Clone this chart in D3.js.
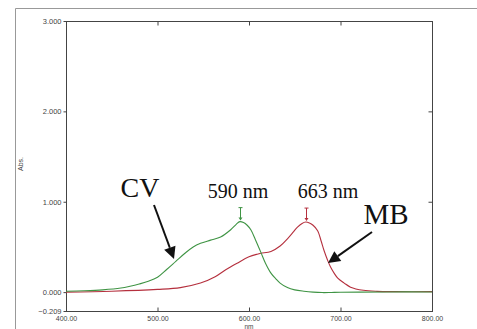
<!DOCTYPE html>
<html>
<head>
<meta charset="utf-8">
<script src="https://cdn.jsdelivr.net/npm/d3@7"></script>
<style>
  body { margin: 0; background: #fff; }
  svg { display: block; }
  .tick text { font-family: Arial, "Liberation Sans", sans-serif; fill: #444; }
</style>
</head>
<body>
<div id="chart"></div>
<script>
// wavelength (nm) / absorbance pairs
var cvWave = [400, 420, 440, 460, 470, 480, 490, 500, 510, 520, 530, 539, 547, 558, 569, 580, 586, 590, 594, 598, 602, 607, 613, 618, 624, 629, 634, 642, 650, 660, 670, 680, 690, 700, 720, 750, 800];
var cvAbs  = [0.01, 0.015, 0.025, 0.045, 0.065, 0.09, 0.12, 0.165, 0.25, 0.34, 0.43, 0.50, 0.54, 0.575, 0.61, 0.69, 0.75, 0.78, 0.77, 0.74, 0.69, 0.58, 0.44, 0.32, 0.21, 0.15, 0.10, 0.05, 0.025, 0.01, 0.0, -0.005, -0.004, -0.002, 0.0, 0.002, 0.002];

var mbWave = [400, 450, 500, 525, 547, 563, 575, 587, 600, 609, 613, 624, 634, 642, 648, 653, 658, 662, 666, 670, 675, 679, 682, 686, 689, 693, 697, 704, 711, 725, 740, 760, 800];
var mbAbs  = [0.0, 0.01, 0.03, 0.05, 0.10, 0.17, 0.25, 0.32, 0.39, 0.42, 0.43, 0.45, 0.51, 0.59, 0.66, 0.72, 0.76, 0.775, 0.765, 0.74, 0.68, 0.56, 0.46, 0.35, 0.28, 0.21, 0.155, 0.10, 0.055, 0.02, 0.008, 0.005, 0.005];

var xTicks = [400, 500, 600, 700, 800];
var yTicks = [-0.209, 0, 1, 2, 3];

var W = 477, H = 329;
var margin = {top: 21, right: 45, bottom: 18, left: 66};

var svg = d3.select("#chart").append("svg").attr("width", W).attr("height", H);

// outer frame (only top and left visible in the crop)
svg.append("path")
  .attr("d", "M15.5," + H + "V8.5H" + W)
  .attr("fill", "none").attr("stroke", "#999").attr("stroke-width", 1);

var x = d3.scaleLinear().domain([400, 800]).range([margin.left, W - margin.right]);
var y = d3.scaleLinear().domain([-0.209, 3]).range([H - margin.bottom, margin.top]);

// box
svg.append("rect")
  .attr("x", x(400) + 0.5).attr("y", y(3) + 0.5)
  .attr("width", x(800) - x(400)).attr("height", y(-0.209) - y(3))
  .attr("fill", "none").attr("stroke", "#444").attr("stroke-width", 1);

var xAxis = svg.append("g").attr("transform", "translate(0," + (y(-0.209) + 0.5) + ")")
  .call(d3.axisBottom(x).tickValues(xTicks).tickFormat(d3.format(".2f")).tickSizeInner(-4).tickSizeOuter(0).tickPadding(5));
xAxis.select(".domain").remove();
xAxis.selectAll("line").attr("stroke", "#444");
xAxis.selectAll("text").attr("font-size", "7px");

var xTop = svg.append("g").attr("transform", "translate(0," + (y(3) + 0.5) + ")")
  .call(d3.axisTop(x).tickValues([500, 600, 700]).tickFormat("").tickSizeInner(-4).tickSizeOuter(0));
xTop.select(".domain").remove();
xTop.selectAll("line").attr("stroke", "#444");

var yAxis = svg.append("g").attr("transform", "translate(" + (x(400) + 0.5) + ",0)")
  .call(d3.axisLeft(y).tickValues(yTicks).tickFormat(d3.format(".3f")).tickSize(3).tickPadding(2));
yAxis.select(".domain").remove();
yAxis.selectAll("line").attr("stroke", "#444");
yAxis.selectAll("text").attr("font-size", "7.5px");

var yRight = svg.append("g").attr("transform", "translate(" + (x(800) + 0.5) + ",0)")
  .call(d3.axisRight(y).tickValues([1, 2]).tickFormat("").tickSizeInner(-4).tickSizeOuter(0));
yRight.select(".domain").remove();
yRight.selectAll("line").attr("stroke", "#444");

// axis titles
svg.append("text").attr("transform", "translate(23," + 164 + ") rotate(-90)")
  .attr("text-anchor", "middle").attr("font-family", "Arial, sans-serif")
  .attr("font-size", "7px").attr("fill", "#444").text("Abs.");
svg.append("text").attr("x", x(600)).attr("y", 329)
  .attr("text-anchor", "middle").attr("font-family", "Arial, sans-serif")
  .attr("font-size", "6.5px").attr("fill", "#444").text("nm");

// spectra
var line = d3.line()
  .x(function (d) { return x(d[0]); })
  .y(function (d) { return y(d[1]); })
  .curve(d3.curveCatmullRom.alpha(0.5));

var series = [
  {name: "MB", wave: mbWave, abs: mbAbs, color: "#b5303e"},
  {name: "CV", wave: cvWave, abs: cvAbs, color: "#3f9444"}
];

series.forEach(function (s) {
  var pts = s.wave.map(function (w, i) { return [w, s.abs[i]]; });
  svg.append("path").datum(pts)
    .attr("d", line)
    .attr("fill", "none").attr("stroke", s.color).attr("stroke-width", 1.1);

  // peak pick marker
  var pk = pts.reduce(function (a, b) { return b[1] > a[1] ? b : a; });
  var px = Math.round(x(pk[0])) + 0.5, py = y(pk[1]);
  var g = svg.append("g").attr("stroke", s.color).attr("fill", s.color);
  g.append("line").attr("x1", px).attr("x2", px).attr("y1", py - 14).attr("y2", py - 2).attr("stroke-width", 1);
  g.append("line").attr("x1", px - 2).attr("x2", px + 2).attr("y1", py - 14).attr("y2", py - 14).attr("stroke-width", 1);
  g.append("path").attr("d", "M" + (px - 2) + "," + (py - 4) + "L" + (px + 2) + "," + (py - 4) + "L" + px + "," + (py - 1) + "Z").attr("stroke", "none");
});

// annotations
var ann = svg.append("g").attr("font-family", "'Liberation Serif', 'Times New Roman', serif").attr("fill", "#111");
ann.append("text").attr("x", 140).attr("y", 197).attr("text-anchor", "middle").attr("font-size", "28px").text("CV");
ann.append("text").attr("x", 238).attr("y", 198).attr("text-anchor", "middle").attr("font-size", "20px").text("590 nm");
ann.append("text").attr("x", 328).attr("y", 198).attr("text-anchor", "middle").attr("font-size", "20px").text("663 nm");
ann.append("text").attr("x", 386).attr("y", 224).attr("text-anchor", "middle").attr("font-size", "29px").text("MB");

function arrow(x1, y1, x2, y2) {
  var ang = Math.atan2(y2 - y1, x2 - x1), len = 12, half = 6;
  var bx = x2 - len * Math.cos(ang), by = y2 - len * Math.sin(ang);
  svg.append("line").attr("x1", x1).attr("y1", y1).attr("x2", bx).attr("y2", by)
    .attr("stroke", "#111").attr("stroke-width", 2);
  var nx = -Math.sin(ang) * half, ny = Math.cos(ang) * half;
  svg.append("path")
    .attr("d", "M" + x2 + "," + y2 + "L" + (bx + nx) + "," + (by + ny) + "L" + (bx - nx) + "," + (by - ny) + "Z")
    .attr("fill", "#111");
}
arrow(154, 205, 174, 259);
arrow(372, 232, 328, 263);
</script>
</body>
</html>
